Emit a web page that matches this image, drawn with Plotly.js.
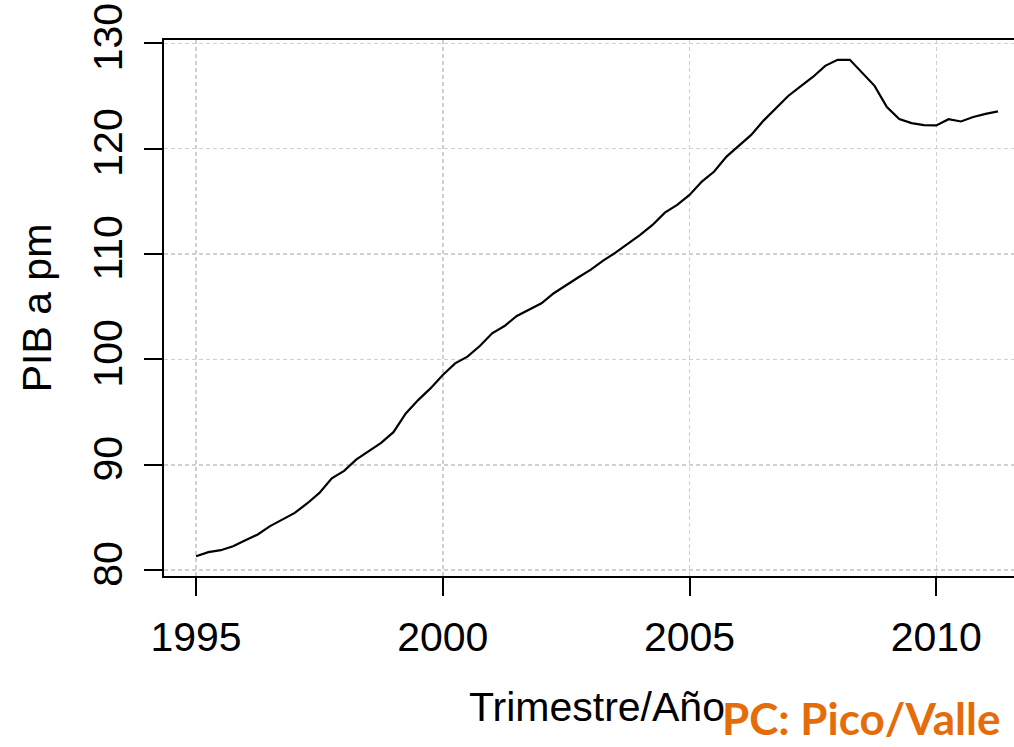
<!DOCTYPE html>
<html>
<head>
<meta charset="utf-8">
<script src="https://cdn.plot.ly/plotly-3.0.1.min.js"></script>
<style>
html, body { margin: 0; padding: 0; overflow: hidden; background: #fff; }
#chart { width: 1030px; height: 747px; }
</style>
</head>
<body>
<div id="chart"></div>
<script>
// Quarterly time index (1995 Q1 .. 2011 Q2)
const startYear = 1995;
const quarters = 66;
const time = [];
for (let i = 0; i < quarters; i++) time.push(startYear + i / 4);

// PIB a pm
const pib = [
  81.33, 81.71, 81.90, 82.28, 82.85, 83.39, 84.18, 84.81,
  85.44, 86.33, 87.34, 88.71, 89.43, 90.51, 91.33, 92.09,
  93.10, 94.88, 96.14, 97.25, 98.52, 99.63, 100.26, 101.27,
  102.48, 103.17, 104.12, 104.76, 105.33, 106.28, 107.07, 107.80,
  108.52, 109.37, 110.13, 110.96, 111.81, 112.76, 113.93, 114.66,
  115.61, 116.88, 117.83, 119.25, 120.27, 121.30, 122.66, 123.84,
  125.00, 125.90, 126.80, 127.86, 128.43, 128.43, 127.23, 125.96,
  123.94, 122.80, 122.42, 122.23, 122.20, 122.80, 122.58, 123.00,
  123.30, 123.53
];

const xTicks = [1995, 2000, 2005, 2010];
const yTicks = [80, 90, 100, 110, 120, 130];

const fontFam = '"Liberation Sans", Arial, sans-serif';

const trace = {
  x: time, y: pib, type: 'scatter', mode: 'lines',
  line: { color: '#000000', width: 2.2 },
  hoverinfo: 'skip'
};

const layout = {
  width: 1030, height: 747,
  margin: { l: 164, r: 0, t: 40, b: 171 },
  paper_bgcolor: '#ffffff', plot_bgcolor: '#ffffff',
  showlegend: false,
  font: { family: fontFam, size: 41, color: '#000' },
  xaxis: {
    range: [1994.35, 2011.9],
    tickmode: 'array', tickvals: xTicks, ticktext: xTicks.map(String),
    ticks: 'outside', ticklen: 18, tickwidth: 2, tickcolor: '#000',
    showline: true, linecolor: '#000', linewidth: 2, mirror: true,
    showgrid: true, gridcolor: '#d0d0d0', gridwidth: 1.5, griddash: '4px,3px',
    zeroline: false,
    tickfont: { family: fontFam, size: 41, color: '#000' },
    ticklabelstandoff: 6,
    title: { text: 'Trimestre/Año', font: { family: fontFam, size: 41, color: '#000' }, standoff: 33 }
  },
  yaxis: {
    range: [79.45, 130.31],
    tickmode: 'array', tickvals: yTicks, ticktext: yTicks.map(String),
    tickangle: -90,
    ticks: 'outside', ticklen: 18, tickwidth: 2, tickcolor: '#000',
    showline: true, linecolor: '#000', linewidth: 2, mirror: false,
    showgrid: true, gridcolor: '#d0d0d0', gridwidth: 1.5, griddash: '4px,3px',
    zeroline: false,
    tickfont: { family: fontFam, size: 41, color: '#000' },
    ticklabelstandoff: 6,
    title: { text: 'PIB a pm', font: { family: fontFam, size: 41, color: '#000' }, standoff: 20 }
  },
  annotations: [{
    text: '<b>PC: Pico/Valle</b>',
    xref: 'paper', yref: 'paper',
    x: (720 - 164) / 866, y: -(747 - 40 - 536 - 1) / 536,
    xanchor: 'left', yanchor: 'bottom',
    showarrow: false,
    font: { family: 'Lato, "Open Sans", sans-serif', size: 44, color: '#E46C0A' }
  }]
};

Plotly.newPlot('chart', [trace], layout, { displayModeBar: false, staticPlot: true });
</script>
</body>
</html>
